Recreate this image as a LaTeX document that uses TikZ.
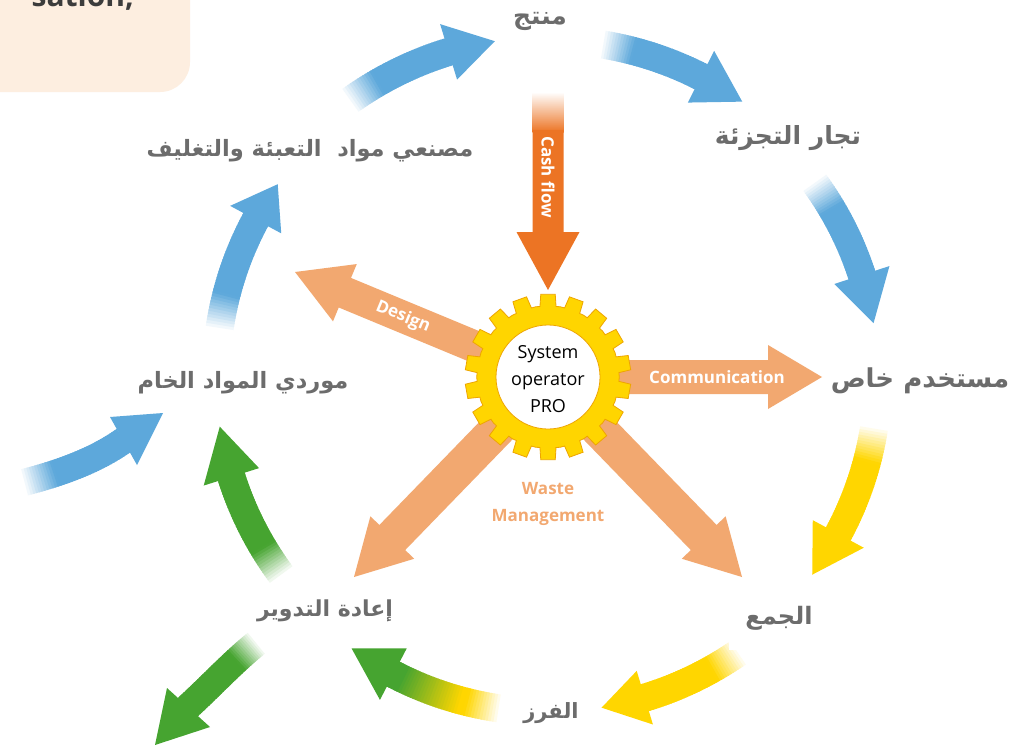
\documentclass[tikz,border=0pt]{standalone}
\usepackage{fontspec}
\setmainfont{Open Sans}
\newfontfamily\arabicfont[Script=Arabic]{DejaVu Sans}
\TeXXeTstate=1
\usetikzlibrary{calc}
\definecolor{cblue}{RGB}{93,168,219}
\definecolor{cyellow}{RGB}{255,214,0}
\definecolor{cgreen}{RGB}{70,164,48}
\definecolor{corange}{RGB}{236,116,36}
\definecolor{cpeach}{RGB}{242,168,112}
\definecolor{gearyel}{RGB}{255,213,0}
\definecolor{gearedge}{RGB}{238,165,0}
\definecolor{labgray}{RGB}{108,108,108}
\definecolor{boxpeach}{RGB}{253,238,224}
\definecolor{cuttext}{RGB}{60,60,60}

% curved shaft along a circle round (G): tail colour, head colour, radius, start angle, end angle
\newcommand\arcshaft[5]{%
  \foreach \i in {0,...,39}{%
    \pgfmathsetmacro\myt{\i/40}%
    \pgfmathsetmacro\ta{#4+(#5-#4)*\i/40}%
    \pgfmathsetmacro\tb{#4+(#5-#4)*(\i+1.6)/40}%
    \pgfmathtruncatemacro\pw{min(100,100*\myt/0.3)}%
    \pgfmathtruncatemacro\ph{max(0,min(100,100*(\myt-0.35)/0.55))}%
    \colorlet{segc}{#2!\ph!#1}%
    \colorlet{segc}{segc!\pw!white}%
    \draw[line width=28pt, segc] ($(G)+(\ta:#3)$) -- ($(G)+(\tb:#3)$);%
  }}
% head of a curved arrow: colour, radius, base angle, half width, angle to tip
\newcommand\archead[5]{%
  \fill[#1] ($(G)+(#3:#2-#4)$) -- ($(G)+(#3+#5:#2)$) -- ($(G)+(#3:#2+#4)$) -- cycle;}
% curved shaft along a bezier: colour, x0,y0,x1,y1,x2,y2,x3,y3
\newcommand\bezshaft[9]{%
  \foreach \i in {0,...,39}{%
    \pgfmathsetmacro\myt{\i/40}%
    \pgfmathsetmacro\myu{(\i+1.6)/40}%
    \pgfmathsetmacro\xa{(1-\myt)^3*#2+3*(1-\myt)^2*\myt*#4+3*(1-\myt)*\myt^2*#6+\myt^3*#8}%
    \pgfmathsetmacro\ya{(1-\myt)^3*#3+3*(1-\myt)^2*\myt*#5+3*(1-\myt)*\myt^2*#7+\myt^3*#9}%
    \pgfmathsetmacro\xb{(1-\myu)^3*#2+3*(1-\myu)^2*\myu*#4+3*(1-\myu)*\myu^2*#6+\myu^3*#8}%
    \pgfmathsetmacro\yb{(1-\myu)^3*#3+3*(1-\myu)^2*\myu*#5+3*(1-\myu)*\myu^2*#7+\myu^3*#9}%
    \pgfmathtruncatemacro\pw{min(100,100*\myt/0.3)}%
    \colorlet{segc}{#1!\pw!white}%
    \draw[line width=27pt, segc] (\xa,\ya) -- (\xb,\yb);%
  }}
% straight block arrow: colour, start, tip, shaft half width, head half width, head length
\newcommand\sarrow[6]{%
  \coordinate (hb) at ($(#3)!#6!(#2)$);
  \fill[#1] ($(#2)!#4!90:(#3)$) -- ($(hb)!#4!90:(#3)$) -- ($(hb)!#5!90:(#3)$) -- (#3)
    -- ($(hb)!#5!-90:(#3)$) -- ($(hb)!#4!-90:(#3)$) -- ($(#2)!#4!-90:(#3)$) -- cycle;}

\tikzset{
  lab/.style={fill=white, text=labgray, inner sep=2pt,
    font=\arabicfont\bfseries\fontsize{#1}{#1}\selectfont},
  onarrow/.style={text=white, inner sep=0pt, font=\bfseries\fontsize{17}{20}\selectfont},
}

\begin{document}
\begin{tikzpicture}[x=1pt,y=-1pt]
\useasboundingbox (0,0) rectangle (1015,747);
\clip (0,0) rectangle (1015,747);
\fill[white] (0,0) rectangle (1015,747);
\coordinate (G) at (548,377);

% peach box top left
\fill[boxpeach] (0,-2) -- (190,-2) -- (190,62) .. controls (190,78.6) and (176.6,92) .. (160,92) -- (0,92) -- cycle;
\node[anchor=base east, text=cuttext, inner sep=0pt, font=\bfseries\fontsize{30}{30}\selectfont] (cut) at (134,6) {sation,};

% cash flow arrow
\coordinate (cfA) at (548,130);
\coordinate (cfT) at (548,290);
\shade[top color=white, bottom color=corange] (532.5,92) rectangle (563.5,132);
\sarrow{corange}{cfA}{cfT}{15.5pt}{31.5pt}{58pt}

% peach arrows from the gear
\coordinate (dT) at (295,272);
\coordinate (cT) at (822,377);
\coordinate (wR) at (742,577);
\coordinate (wL) at (354,577);
\sarrow{cpeach}{G}{dT}{16pt}{31pt}{54pt}
\sarrow{cpeach}{G}{cT}{17pt}{32pt}{54pt}
\sarrow{cpeach}{G}{wR}{18pt}{30.5pt}{55pt}
\sarrow{cpeach}{G}{wL}{18pt}{30.5pt}{55pt}

% gear
\begin{scope}[shift={(548,377)}]
  \filldraw[fill=gearyel, draw=gearedge, line width=0.8pt] (84:71)
    foreach \k in {0,...,17}{ -- (90+20*\k-6.5:71) -- (90+20*\k-5:83) -- (90+20*\k+5:83) -- (90+20*\k+6.5:71) -- (90+20*\k+10:71.3)} -- cycle;
  \filldraw[fill=white, draw=gearedge, line width=0.8pt] (0,0) circle (52);
\end{scope}
\node[align=center, inner sep=0pt, font=\fontsize{18}{27}\selectfont] (sys) at (548,379) {System\\operator\\PRO};

% texts on arrows
\node[onarrow, rotate=-90] (cftext) at (548,177) {Cash flow};
\node[onarrow, rotate=-22.5] (dtext) at (403,317) {Design};
\node[onarrow] (ctext) at (717,377) {Communication};
\node[text=cpeach, align=center, inner sep=0pt, font=\bfseries\fontsize{17}{27}\selectfont] (waste) at (548,504) {Waste\\Management};

% cycle arrows
\arcshaft{cblue}{cblue}{340}{-126}{-107}   \archead{cblue}{340}{-107}{29}{8}
\arcshaft{cblue}{cblue}{337}{-81}{-63}     \archead{cblue}{337}{-63}{29}{8.2}
\arcshaft{cblue}{cblue}{330}{-36.5}{-18}   \archead{cblue}{330}{-18}{29}{8.6}
\arcshaft{cyellow}{cyellow}{330}{8.5}{28.4} \archead{cyellow}{330}{28.4}{29}{8.4}
\arcshaft{cyellow}{cyellow}{335}{55}{73.2}  \archead{cyellow}{335}{73.2}{28}{7.6}
\arcshaft{cyellow}{cgreen}{335}{98}{117.5}  \archead{cgreen}{335}{117.5}{29}{8.4}
\arcshaft{cgreen}{cgreen}{332}{143}{162.5}  \archead{cgreen}{332}{162.5}{29}{8.9}
\arcshaft{cblue}{cblue}{332}{188}{208.3}    \archead{cblue}{332}{208.3}{29}{7.2}

% incoming arrow (left) and outgoing arrow (bottom left)
\bezshaft{cblue}{22}{483}{57}{474}{93}{462}{123}{441}
\coordinate (inW1) at (110,417); \coordinate (inT) at (163,413); \coordinate (inW2) at (137,465);
\fill[cblue] (inW1) -- (inT) -- (inW2) -- cycle;
\bezshaft{cgreen}{258}{642}{235}{660}{212}{685}{188}{707}
\coordinate (outW1) at (167,688); \coordinate (outT) at (155,745); \coordinate (outW2) at (210,727);
\fill[cgreen] (outW1) -- (outT) -- (outW2) -- cycle;

% labels
\node[lab=25] (prod) at (540,21) {\beginR منتج\endR};
\node[lab=25] (retail) at (788,138) {\beginR تجار التجزئة\endR};
\node[lab=26, inner sep=1pt] (user) at (920,381) {\beginR مستخدم خاص\endR};
\node[lab=22.5] (pack) at (310,151) {\beginR مصنعي مواد\ \ التعبئة والتغليف\endR};
\node[lab=22.5] (raw) at (243,383) {\beginR موردي المواد الخام\endR};
\node[lab=24, minimum width=100pt, minimum height=64pt] (collect) at (779,618) {\beginR الجمع\endR};
\node[lab=21] (sort) at (551,713) {\beginR الفرز\endR};
\node[lab=22] (recyc) at (325,611) {\beginR إعادة التدوير\endR};
\end{tikzpicture}
\end{document}
